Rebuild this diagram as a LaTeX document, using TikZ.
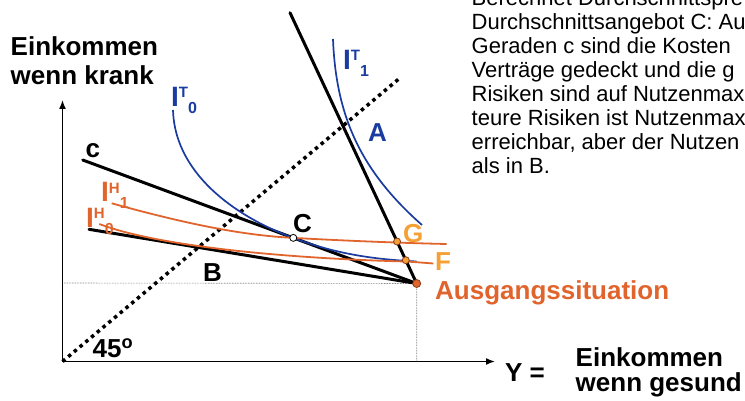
\documentclass[tikz,border=0pt]{standalone}
\usepackage{fontspec}
\setmainfont{Liberation Sans}
\usetikzlibrary{arrows.meta,calc}
\definecolor{lcblue}{HTML}{1A3CA0}
\definecolor{hdark}{HTML}{E0642C}
\definecolor{hlight}{HTML}{F5A035}
\newcommand{\curvelab}[3]{\fontsize{28}{28}\selectfont #1\raisebox{9pt}{\fontsize{15}{15}\selectfont #2}\raisebox{-7pt}{\fontsize{16}{16}\selectfont #3}}

\begin{document}
\begin{tikzpicture}[x=1pt, y=-1pt,
    axis/.style={line width=1.5pt, {Latex[length=9pt,width=7pt]}-{Latex[length=9pt,width=7pt]}},
    guide/.style={densely dotted, line width=0.6pt, black!70},
    diag/.style={line width=3.5pt, dash pattern=on 3.5pt off 4pt},
    budget/.style={line width=3pt, line cap=round},
    tcurve/.style={lcblue, line width=1.7pt},
    hcurve/.style={hdark, line width=1.8pt},
    dot/.style={circle, inner sep=0pt, minimum size=7pt, line width=0.8pt},
    lab/.style={inner sep=0pt, anchor=base west, font=\fontsize{26}{28}\selectfont\bfseries}
  ]
    \clip (0,0) rectangle (745,401);

    \coordinate (O) at (62.5,361.5);
    \coordinate (ytip) at (62.5,100);
    \coordinate (xtip) at (495,361.5);
    \coordinate (diagtop) at (400.7,77.3);
    \coordinate (cstart) at (82.7,160);
    \coordinate (bstart) at (89,229.3);
    \coordinate (steeptop) at (290,12.7);
    \coordinate (ausg) at (416.7,283.5);
    \coordinate (yproj) at (62.5,283);
    \coordinate (xproj) at (416.7,361.5);
    \coordinate (cpt) at ($(cstart)!0.6305!(ausg)$);
    \coordinate (gpt) at ($(steeptop)!0.845!(ausg)$);
    \coordinate (fpt) at ($(steeptop)!0.914!(ausg)$);

    \draw[axis] (ytip) -- (O) -- (xtip);
    \draw[guide] (yproj) -- (ausg) -- (xproj);
    \draw[diag] (O) -- (diagtop);

    \draw[budget] (cstart) -- (ausg);
    \draw[budget] (bstart) -- (ausg);
    \draw[budget] (steeptop) -- (ausg);

    \draw[tcurve] (173,110) .. controls (175,178) and (243.3,219.8) .. (cpt)
                  .. controls (340.3,255.7) and (380,259.5) .. (416.5,261.5);
    \draw[tcurve] (333,39) .. controls (336,118) and (362,172) .. (422,225);
    \draw[hcurve] (111.7,203.3) .. controls (190,225) and (245,235.5) .. (cpt)
                  .. controls (340,240.5) and (400,243) .. (446.7,244);
    \draw[hcurve] (99.3,224) .. controls (160,247) and (290,258.5) .. (405.8,261.5)
                  .. controls (415,262) and (424,262.8) .. (433.3,263.5);

    \node[dot, fill=white, draw=black] (C) at (cpt) {};
    \node[dot, fill=hlight, draw=hdark!60!black] (G) at (gpt) {};
    \node[dot, fill=hlight, draw=hdark!60!black] (F) at (fpt) {};
    \node[dot, fill=hdark, draw=hdark!60!black, minimum size=8pt] (start) at (ausg) {};

    \node[lab] (clab) at (85.5,158) {c};
    \node[lab] (Clab) at (293,233) {C};
    \node[lab] (Blab) at (203,281.7) {B};
    \node[lab, lcblue] (Alab) at (368,141.7) {A};
    \node[lab, hlight] (Glab) at (403,243) {G};
    \node[lab, hlight] (Flab) at (435,270) {F};
    \node[lab, hdark] (startlab) at (435,299) {Ausgangssituation};
    \node[lab] (deg) at (92.5,357.3) {45\textsuperscript{o}};
    \node[lab] (ylab) at (505,381) {Y =};
    \node[lab, anchor=north west, align=left, font=\fontsize{26}{25}\selectfont\bfseries] (gesund) at (575.5,347) {Einkommen\\wenn gesund};
    \node[lab, anchor=north west, align=left, font=\fontsize{26}{28.3}\selectfont\bfseries] (krank) at (10.5,36.7) {Einkommen\\wenn krank};

    \node[lab, lcblue] (it0) at (171,107) {\curvelab{I}{T}{0}};
    \node[lab, lcblue] (it1) at (343,70) {\curvelab{I}{T}{1}};
    \node[lab, hdark] (ih1) at (101,202) {\curvelab{I}{H}{1}};
    \node[lab, hdark] (ih0) at (86,227) {\curvelab{I}{H}{0}};

    \node[anchor=north west, inner sep=0pt, align=left, font=\fontsize{22}{24}\selectfont] (note) at (471.5,-10.7)
      {Berechnet Durchschnittspre\\Durchschnittsangebot C: Au\\Geraden c sind die Kosten\\Verträge gedeckt und die g\\Risiken sind auf Nutzenmax\\teure Risiken ist Nutzenmax\\erreichbar, aber der Nutzen\\als in B.};
  \end{tikzpicture}
\end{document}
